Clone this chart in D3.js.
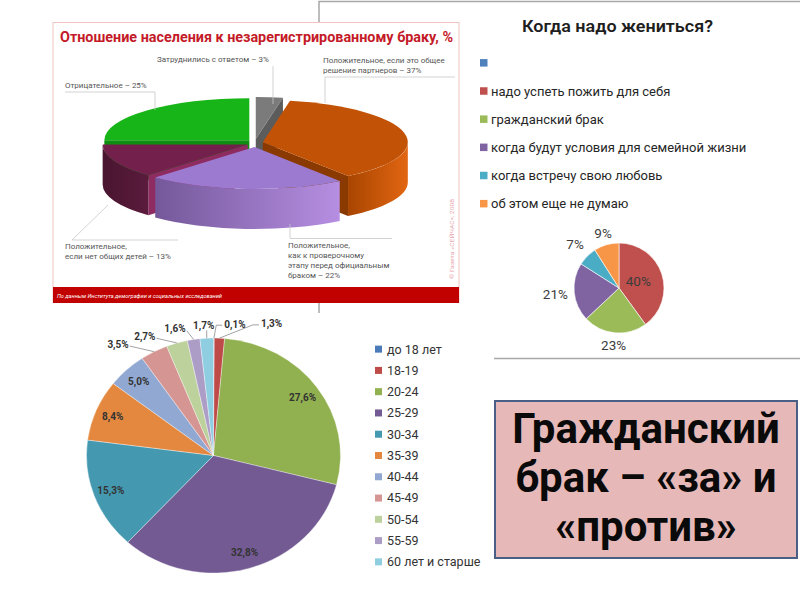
<!DOCTYPE html>
<html>
<head>
<meta charset="utf-8">
<script src="https://cdn.jsdelivr.net/npm/d3@7"></script>
<style>
  body { margin: 0; background: #fff; }
  svg { display: block; }
  text { font-family: Roboto, "Open Sans", "Liberation Sans", sans-serif; }
</style>
</head>
<body>
<svg id="slide" width="800" height="600"></svg>
<script>
// --- data -------------------------------------------------------------
// "Отношение населения к незарегистрированному браку, %"
const attitudeNames = [
  "Затруднились с ответом",
  "Положительное, если это общее\nрешение партнеров",
  "Положительное,\nкак к проверочному\nэтапу перед официальным\nбраком",
  "Положительное,\nесли нет общих детей",
  "Отрицательное"
];
const attitudeValues = [3, 37, 22, 13, 25];
const attitudeColors = ["#7b7b7b", "#c25206", "#9c7ad0", "#74204c", "#17b517"];

// "Когда надо жениться?"
const marryNames = [
  "",
  "надо успеть пожить для себя",
  "гражданский брак",
  "когда будут условия для семейной жизни",
  "когда встречу свою любовь",
  "об этом еще не думаю"
];
const marryValues = [0, 40, 23, 21, 7, 9];
const marryColors = ["#4f81bd", "#c0504d", "#9bbb59", "#8064a2", "#4bacc6", "#f79646"];

// age of entering civil marriage
const ageNames = ["до 18 лет", "18-19", "20-24", "25-29", "30-34", "35-39",
  "40-44", "45-49", "50-54", "55-59", "60 лет и старше"];
const ageValues = [0.1, 1.3, 27.6, 32.8, 15.3, 8.4, 5.0, 3.5, 2.7, 1.6, 1.7];
const ageColors = ["#4a7ab8", "#be4b48", "#91b04f", "#735a93", "#4499b1", "#e4883f",
  "#91a9d2", "#d59593", "#bdd19c", "#ac9dc7", "#8fcde0"];

// --- layout -----------------------------------------------------------
const svg = d3.select("#slide");
const fmt = v => v.toFixed(1).replace(".", ",");

// frame of the right-hand picture
svg.append("path")
  .attr("d", "M319,313 V1.5 H800 M494,358.5 H800")
  .attr("fill", "none").attr("stroke", "#a8a8a8").attr("stroke-width", 1.5);

// ===== panel 1: 3D exploded pie ======================================
const p1 = svg.append("g");
p1.append("rect").attr("x", 53).attr("y", 22.5).attr("width", 406).attr("height", 280)
  .attr("fill", "#fff").attr("stroke", "#f2c4c4").attr("stroke-width", 1);
p1.append("rect").attr("x", 53).attr("y", 287).attr("width", 406).attr("height", 16)
  .attr("fill", "#c10000");
p1.append("text").attr("x", 57).attr("y", 297.5)
  .attr("font-size", 5.5).attr("font-style", "italic").attr("fill", "#fff")
  .attr("textLength", 165).attr("lengthAdjust", "spacingAndGlyphs")
  .text("По данным Института демографии и социальных исследований");
p1.append("text").attr("x", 60).attr("y", 42)
  .attr("font-size", 15.5).attr("font-weight", "bold").attr("fill", "#c41a28")
  .attr("textLength", 393).attr("lengthAdjust", "spacingAndGlyphs")
  .text("Отношение населения к незарегистрированному браку, %");
p1.append("text")
  .attr("transform", "translate(454,279) rotate(-90)")
  .attr("font-size", 6).attr("fill", "#e8a6ae")
  .attr("textLength", 80).attr("lengthAdjust", "spacingAndGlyphs")
  .text("© Газета «СЕЙЧАС», 2008");

const P3 = { cx: 255, cy: 143, rx: 145, ry: 42, depth: 40, explode: 8 };
const wallGrad = [
  ["#5e5e5e", "#6a6a6a"],
  ["#a84500", "#e26612"],
  ["#74589a", "#b68ee2"],
  ["#491530", "#5b1b3c"],
  ["#0d860d", "#109a10"]
];
const radialColors = ["#5c5c5c", "#8a3900", "#7c5ca8", "#8e2c62", "#0f8f0f"];

const defs = svg.append("defs");
const arcs3d = d3.pie().sort(null).value(d => d)(attitudeValues);

function pt(a, ox, oy) {
  return [P3.cx + ox + P3.rx * Math.sin(a), P3.cy + oy - P3.ry * Math.cos(a)];
}

const slices3d = arcs3d.map((d, i) => {
  const mid = (d.startAngle + d.endAngle) / 2;
  return { d, i, mid, ox: Math.sin(mid) * P3.explode, oy: -Math.cos(mid) * P3.explode * 0.5 };
});
// paint back-to-front
slices3d.sort((a, b) => -Math.cos(a.mid) - -Math.cos(b.mid));

slices3d.forEach(s => {
  const { d, i, ox, oy } = s;
  const g = p1.append("g");
  const c = [P3.cx + ox, P3.cy + oy];
  const dep = P3.depth;
  // radial walls
  const radial = [];
  if (-Math.sin(d.startAngle) > 0.01) radial.push(d.startAngle);
  if (Math.sin(d.endAngle) > 0.01) radial.push(d.endAngle);
  radial.forEach(a => {
    const r = pt(a, ox, oy);
    g.append("path")
      .attr("d", `M${c[0]},${c[1]} L${r[0]},${r[1]} L${r[0]},${r[1] + dep} L${c[0]},${c[1] + dep} Z`)
      .attr("fill", radialColors[i]);
  });
  // outer wall (front half only)
  const s0 = Math.max(d.startAngle, Math.PI / 2), s1 = Math.min(d.endAngle, 3 * Math.PI / 2);
  if (s1 > s0) {
    const a = pt(s0, ox, oy), b = pt(s1, ox, oy);
    const gid = "wall" + i;
    const lg = defs.append("linearGradient").attr("id", gid)
      .attr("gradientUnits", "userSpaceOnUse")
      .attr("x1", Math.min(a[0], b[0])).attr("x2", Math.max(a[0], b[0]))
      .attr("y1", 0).attr("y2", 0);
    lg.append("stop").attr("offset", 0).attr("stop-color", wallGrad[i][0]);
    lg.append("stop").attr("offset", 1).attr("stop-color", wallGrad[i][1]);
    g.append("path")
      .attr("d", `M${a[0]},${a[1]} A${P3.rx},${P3.ry} 0 0 1 ${b[0]},${b[1]}` +
        ` L${b[0]},${b[1] + dep} A${P3.rx},${P3.ry} 0 0 0 ${a[0]},${a[1] + dep} Z`)
      .attr("fill", `url(#${gid})`);
  }
  // top face
  const a = pt(d.startAngle, ox, oy), b = pt(d.endAngle, ox, oy);
  const large = d.endAngle - d.startAngle > Math.PI ? 1 : 0;
  g.append("path")
    .attr("d", `M${c[0]},${c[1]} L${a[0]},${a[1]} A${P3.rx},${P3.ry} 0 ${large} 1 ${b[0]},${b[1]} Z`)
    .attr("fill", attitudeColors[i]);
});

// callouts of panel 1 (text position + leader polyline)
const attitudeCallouts = [
  { x: 157, y: 62, line: [[273, 66], [273, 104]] },
  { x: 323, y: 63, line: [[455, 77], [325, 77], [325, 103]] },
  { x: 288, y: 248, line: [[392, 238.5], [290, 238.5], [290, 224]] },
  { x: 65, y: 249, line: [[178, 240], [72, 240], [108, 205]] },
  { x: 65, y: 88, line: [[65, 92], [155, 92], [155, 110]] }
];
attitudeCallouts.forEach((c, i) => {
  p1.append("path").attr("d", d3.line()(c.line))
    .attr("fill", "none").attr("stroke", "#c8c8c8").attr("stroke-width", 0.8);
  const lines = (attitudeNames[i] + " – " + attitudeValues[i] + "%").split("\n");
  const t = p1.append("text").attr("x", c.x).attr("y", c.y)
    .attr("font-size", 8).attr("fill", "#555");
  lines.forEach((l, k) => t.append("tspan").attr("x", c.x).attr("dy", k ? 10 : 0).text(l));
});

// ===== panel 2: "Когда надо жениться?" ================================
const p2 = svg.append("g");
p2.append("text").attr("x", 522).attr("y", 32)
  .attr("font-size", 16).attr("font-weight", 600).attr("fill", "#1e1e1e")
  .attr("textLength", 191).attr("lengthAdjust", "spacingAndGlyphs")
  .text("Когда надо жениться?");

const legend2 = d3.scaleBand().domain(marryNames.map((_, i) => i)).range([49, 218]);
marryNames.forEach((n, i) => {
  const y = legend2(i) + legend2.bandwidth() / 2;
  p2.append("rect").attr("x", 480).attr("y", y - 4).attr("width", 7.5).attr("height", 7.5)
    .attr("fill", marryColors[i]);
  p2.append("text").attr("x", 491).attr("y", y).attr("dy", "0.35em")
    .attr("font-size", 13).attr("fill", "#262626").text(n);
});

const pie2 = { cx: 619, cy: 288, r: 45 };
const marryLabelRadius = [0, 0.45, 1.27, 1.42, 1.38, 1.27];
const arcs2 = d3.pie().sort(null).value(d => d)(marryValues);
const arc2 = d3.arc().innerRadius(0).outerRadius(pie2.r);
const g2 = p2.append("g").attr("transform", `translate(${pie2.cx},${pie2.cy})`);
g2.selectAll("path").data(arcs2).join("path")
  .attr("d", arc2).attr("fill", (d, i) => marryColors[i])
  .attr("stroke", "#fff").attr("stroke-width", 0.6);
g2.selectAll("text").data(arcs2.filter(d => d.value > 0)).join("text")
  .attr("x", d => {
    const m = (d.startAngle + d.endAngle) / 2;
    return Math.sin(m) * pie2.r * marryLabelRadius[d.index];
  })
  .attr("y", d => {
    const m = (d.startAngle + d.endAngle) / 2;
    return -Math.cos(m) * pie2.r * marryLabelRadius[d.index];
  })
  .attr("text-anchor", "middle").attr("dy", "0.35em")
  .attr("font-size", 13.5).attr("fill", "#3c3c3c")
  .text(d => d.value + "%");

// ===== panel 3: age pie =============================================
const p3 = svg.append("g");
const pie3 = { cx: 213.5, cy: 455.5, r: 117.5, sx: 127 / 117.5 };
const arcs3 = d3.pie().sort(null).value(d => d)(ageValues);
const arc3 = d3.arc().innerRadius(0).outerRadius(pie3.r);
p3.append("g")
  .attr("transform", `translate(${pie3.cx},${pie3.cy}) scale(${pie3.sx},1)`)
  .selectAll("path").data(arcs3).join("path")
  .attr("d", arc3).attr("fill", (d, i) => ageColors[i])
  .attr("stroke", "#fff").attr("stroke-width", 0.5).attr("stroke-opacity", 0.7);

const ellPt = (a, r) => [pie3.cx + Math.sin(a) * pie3.r * pie3.sx * r, pie3.cy - Math.cos(a) * pie3.r * r];
// small slices: label outside (angle shift in degrees, radius factor)
const ageOutside = { 0: [8.4, 1.13], 1: [19.5, 1.21], 7: [-10.5, 1.21], 8: [-11.3, 1.15], 9: [-6.7, 1.12], 10: [-0.9, 1.11] };

arcs3.forEach((d, i) => {
  const mid = (d.startAngle + d.endAngle) / 2;
  const out = ageOutside[i];
  const pos = out ? ellPt(mid + out[0] * Math.PI / 180, out[1]) : ellPt(mid, 0.86);
  const t = p3.append("text").attr("x", pos[0]).attr("y", pos[1]).attr("dy", "0.35em")
    .attr("text-anchor", "middle").attr("font-size", 10).attr("font-weight", "bold")
    .attr("fill", "#333").text(fmt(d.value) + "%");
  if (out) {
    const w = t.node().getComputedTextLength();
    const e = ellPt(mid, 1.0);
    let pts;
    if (pos[0] - w / 2 > e[0] + 4) {
      const ax = pos[0] - w / 2 - 2;
      pts = [e, [ax - 6, pos[1] + 1], [ax, pos[1] + 1]];
    } else if (pos[0] + w / 2 < e[0] - 4) {
      const ax = pos[0] + w / 2 + 1;
      pts = [e, [ax, pos[1] + 2]];
    } else {
      pts = [e, [e[0], pos[1] + 5]];
    }
    p3.insert("path", "text").attr("d", d3.line()(pts))
      .attr("fill", "none").attr("stroke", "#8a8a8a").attr("stroke-width", 0.8);
  }
});

const legend3 = d3.scaleBand().domain(ageNames).range([338.5, 572.5]);
ageNames.forEach((n, i) => {
  const y = legend3(n) + legend3.bandwidth() / 2;
  p3.append("rect").attr("x", 375).attr("y", y - 3.5).attr("width", 7).attr("height", 7)
    .attr("fill", ageColors[i]);
  p3.append("text").attr("x", 387).attr("y", y).attr("dy", "0.35em")
    .attr("font-size", 12.5).attr("fill", "#333").text(n);
});

// ===== title box ====================================================
const box = svg.append("g");
box.append("rect").attr("x", 495).attr("y", 401).attr("width", 302).attr("height", 157)
  .attr("fill", "#e6b9b8").attr("stroke", "#4a5f86").attr("stroke-width", 2);
const titleLines = ["Гражданский", "брак – «за» и", "«против»"];
titleLines.forEach((l, k) => {
  box.append("text").attr("x", 646).attr("y", 443 + k * 49)
    .attr("text-anchor", "middle").attr("font-size", 42).attr("font-weight", "bold")
    .attr("font-family", "'Liberation Sans', Arial, sans-serif")
    .attr("fill", "#0a0a0a").text(l);
});
</script>
</body>
</html>
